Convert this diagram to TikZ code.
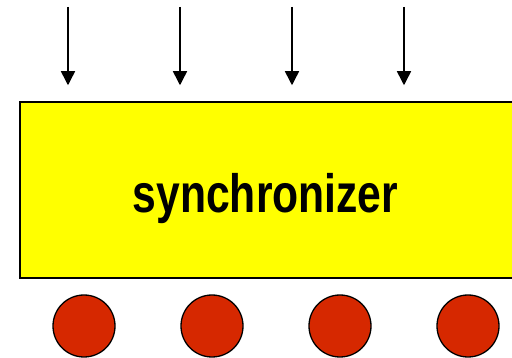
\documentclass[tikz,border=0pt]{standalone}
\usepackage{fontspec}
\setmainfont{Liberation Sans}
\usepackage{xcolor}
\usetikzlibrary{arrows.meta}
\definecolor{syncyellow}{RGB}{255,255,0}
\definecolor{tokenred}{RGB}{214,40,0}
\tikzset{
  input/.style={line width=1.5pt, -{Triangle[length=14pt,width=14pt]}},
  token/.style={circle, draw, line width=1.3pt, fill=tokenred, minimum size=62pt, inner sep=0pt}
}
\begin{document}
\begin{tikzpicture}[x=1pt,y=-1pt]
\useasboundingbox (0,0) rectangle (512,358);
\clip (0,0) rectangle (512,358);
\node[draw, line width=1.5pt, fill=syncyellow, rectangle, minimum width=500pt, minimum height=176pt, inner sep=0pt] (sync) at (270,190) {};
\node[font=\bfseries\fontsize{54}{60}\selectfont, anchor=base, inner sep=0pt] (name) at (265.5,213) {\scalebox{0.79}[1]{synchronizer}};
\coordinate (in1) at (68,7);
\coordinate (in2) at (180,7);
\coordinate (in3) at (292,7);
\coordinate (in4) at (404,7);
\draw[input, shorten >=16pt] (in1) -- (in1 |- sync.north);
\draw[input, shorten >=16pt] (in2) -- (in2 |- sync.north);
\draw[input, shorten >=16pt] (in3) -- (in3 |- sync.north);
\draw[input, shorten >=16pt] (in4) -- (in4 |- sync.north);
\node[token] (t1) at (84,326) {};
\node[token] (t2) at (212,326) {};
\node[token] (t3) at (340,326) {};
\node[token] (t4) at (468,326) {};
\end{tikzpicture}
\end{document}
